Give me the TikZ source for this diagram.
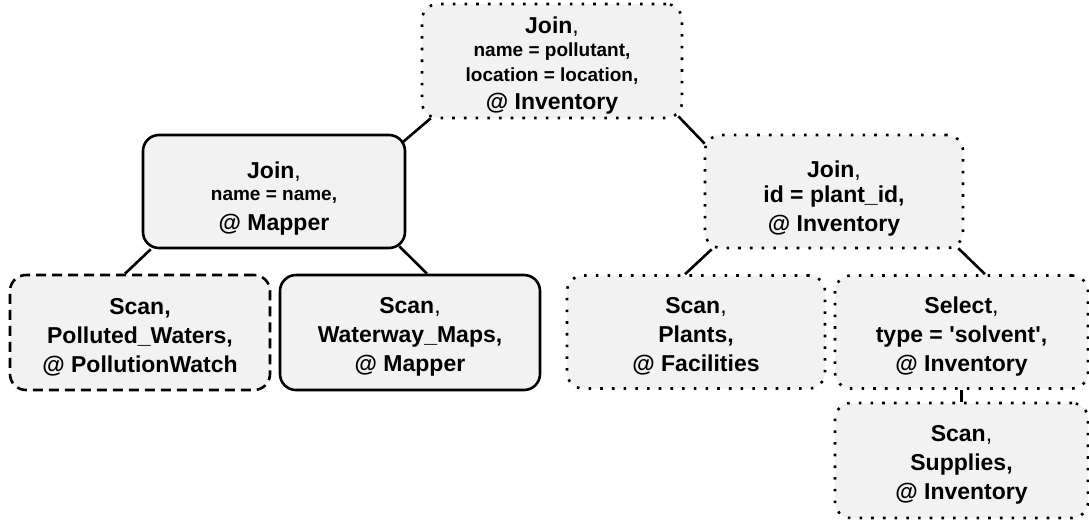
\documentclass[tikz,border=0pt]{standalone}
\usepackage{fontspec}
\setmainfont{Liberation Sans}
\usetikzlibrary{calc}
\definecolor{opfill}{HTML}{F2F2F2}
\newcommand\opdetail{\fontsize{19}{24}\selectfont}
% invisible strut on a first line: lowers the text block inside its box
\newcommand\headstrut[1]{\rule{0pt}{#1}}
\begin{document}
\begin{tikzpicture}[x=1pt,y=-1pt,
  opbox/.style={rounded corners=16pt, fill=opfill, align=center, inner sep=0pt,
    draw=black, line width=2.6pt, font=\fontsize{23}{29}\selectfont\bfseries},
  solidbox/.style={opbox},
  dashbox/.style={opbox, dash pattern=on 10pt off 6pt},
  dotbox/.style={opbox, dash pattern=on 2.6pt off 9.1pt},
  link/.style={draw=black, line width=2.6pt}
]
\useasboundingbox (0,0) rectangle (1089,523);

% operator boxes
\node[dotbox, minimum width=260pt, minimum height=114pt] (tj) at (552,61)
  {\headstrut{25pt}Join{\mdseries,}\\[-6pt]{\opdetail name = pollutant,}\\[-4pt]{\opdetail location = location,}\\[-1pt]@ Inventory};
\node[solidbox, minimum width=262pt, minimum height=113pt] (lj) at (274,191.5)
  {\headstrut{30pt}Join{\mdseries,}\\[-7pt]{\opdetail name = name,}\\[1pt]@ Mapper};
\node[dotbox, minimum width=258pt, minimum height=113pt] (rj) at (834,191.5)
  {\headstrut{30pt}Join{\mdseries,}\\[-4pt]id = plant\_id,\\@ Inventory};
\node[dashbox, minimum width=260pt, minimum height=115pt] (pw) at (140,332.5)
  {\headstrut{25pt}Scan,\\Polluted\_Waters,\\@ PollutionWatch};
\node[solidbox, minimum width=260pt, minimum height=115pt] (wm) at (410,332.5)
  {\headstrut{25pt}Scan{\mdseries,}\\Waterway\_Maps,\\@ Mapper};
\node[dotbox, minimum width=258pt, minimum height=113pt] (pl) at (696,332)
  {\headstrut{25pt}Scan{\mdseries,}\\Plants,\\@ Facilities};
\node[dotbox, minimum width=253pt, minimum height=113pt] (se) at (961.5,332)
  {\headstrut{25pt}Select{\mdseries,}\\type = \textquotesingle solvent\textquotesingle,\\@ Inventory};
\node[dotbox, minimum width=253pt, minimum height=115pt] (su) at (961.5,460.5)
  {\headstrut{25pt}Scan{\mdseries,}\\Supplies,\\@ Inventory};

% plan edges
\draw[link] ($(tj.south west)+(10,-1)$) -- ($(lj.north east)+(-3,8)$);
\draw[link] ($(tj.south east)+(-5,-3)$) -- ($(rj.north west)+(1,10)$);
\draw[link] ($(lj.south west)+(9,0)$) -- ($(pw.north)+(-15,0)$);
\draw[link] ($(lj.south east)+(-7,-3)$) -- ($(wm.north)+(17,0)$);
\draw[link] ($(rj.south west)+(8,0)$) -- ($(pl.north)+(-11,0)$);
\draw[link] ($(rj.south east)+(-6,-1)$) -- ($(se.north)+(23.5,0)$);
\draw[link] (se.south) -- (su.north);
\end{tikzpicture}
\end{document}
